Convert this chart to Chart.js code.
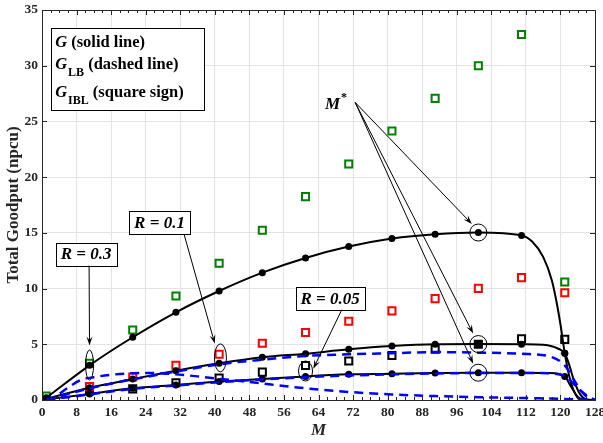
<!DOCTYPE html>
<html>
<head>
<meta charset="utf-8">
<script src="https://cdn.jsdelivr.net/npm/chart.js@4.4.1/dist/chart.umd.min.js"></script>
<style>
  html, body { margin: 0; padding: 0; background: #fff; }
  canvas { display: block; }
</style>
</head>
<body>
<canvas id="goodputChart" width="603" height="443"></canvas>
<script>
// ── Total goodput vs M ──

const M_PTS = [1, 11, 21, 31, 41, 51, 61, 71, 81, 91, 101, 111, 121];
const X_TICK_STEP = 8;
const Y_TICK_STEP = 5;

// G (solid, dots on M_PTS) – extra points trace the fall-off near M = 128
const G_R03_M = [1, 11, 21, 31, 41, 51, 61, 71, 81, 91, 101, 111, 113.5, 116, 118, 119, 120, 121, 122, 123, 124, 125, 128];
const G_R03   = [0.2, 3.11, 5.63, 7.87, 9.78, 11.43, 12.75, 13.77, 14.49, 14.88, 15.03, 14.76, 14.2, 12.85, 10.75, 9.0, 6.8, 4.2, 2.2, 0.9, 0.2, 0, 0];
const G_R01_M = [1, 11, 21, 31, 41, 51, 61, 71, 81, 91, 101, 111, 116, 118, 119.5, 121, 122, 123, 124.5, 126, 128];
const G_R01   = [0.1, 1.1, 1.88, 2.63, 3.29, 3.83, 4.16, 4.55, 4.84, 5.0, 5.02, 5.0, 4.95, 4.82, 4.6, 4.2, 3.2, 1.9, 0.55, 0.05, 0];
const G_R005_M = [1, 11, 21, 31, 41, 51, 61, 71, 81, 91, 101, 111, 117, 119.5, 121, 122.6, 124, 125.5, 128];
const G_R005   = [0.05, 0.54, 1.05, 1.35, 1.65, 1.88, 2.12, 2.3, 2.36, 2.42, 2.45, 2.45, 2.42, 2.35, 2.12, 1.1, 0.3, 0.03, 0];

// G_LB (dashed)
const LB_R03_M = [1, 3, 6, 9, 12, 17, 21, 26, 31, 36, 41, 46, 51, 56, 62, 71, 81, 91, 101, 108, 115, 121, 128];
const LB_R03   = [0, 0.3, 1.1, 1.8, 2.05, 2.3, 2.4, 2.42, 2.3, 2.12, 1.9, 1.7, 1.48, 1.25, 1.02, 0.72, 0.5, 0.35, 0.25, 0.2, 0.15, 0.1, 0];
const LB_R01_M = [1, 11, 21, 31, 41, 51, 61, 71, 81, 91, 101, 111, 118, 121, 123, 125, 127, 128];
const LB_R01   = [0, 1.05, 1.85, 2.55, 3.2, 3.62, 3.95, 4.1, 4.2, 4.3, 4.25, 4.15, 3.85, 3.1, 1.9, 0.7, 0.1, 0];
const LB_R005_M = [1, 11, 21, 31, 41, 51, 61, 71, 81, 91, 101, 111, 117, 119.5, 121.4, 123.8, 126.1, 128];
const LB_R005   = [0, 0.5, 1.0, 1.3, 1.6, 1.85, 2.05, 2.2, 2.3, 2.38, 2.42, 2.42, 2.4, 2.3, 2.06, 1.16, 0.41, 0];

// G_IBL (squares) on M_PTS
const IBL_R03  = [0.35, 3.29, 6.28, 9.33, 12.27, 15.23, 18.25, 21.18, 24.14, 27.07, 30.0, 32.8, 10.59];
const IBL_R01  = [0.12, 1.2, 2.07, 3.12, 4.1, 5.09, 6.05, 7.06, 8.0, 9.1, 10.02, 10.98, 9.63];
const IBL_R005 = [0.1, 0.8, 1.0, 1.55, 1.97, 2.5, 3.1, 3.5, 4.0, 4.55, 5.0, 5.5, 5.44];

const SERIF = "'Liberation Serif', 'DejaVu Serif', serif";
const AXIS_CLR = '#262626';

const pts = (xs, ys) => xs.map((x, i) => ({ x, y: ys[i] }));

const solid = (xs, ys) => ({
  data: pts(xs, ys), borderColor: '#000', borderWidth: 2, order: 2,
  cubicInterpolationMode: 'monotone',
  pointRadius: c => M_PTS.includes(c.raw.x) ? 3.5 : 0,
  pointBackgroundColor: '#000', pointBorderWidth: 0
});
const dashed = (xs, ys) => ({
  data: pts(xs, ys), borderColor: '#0000ff', borderWidth: 2.5, borderDash: [9, 6],
  cubicInterpolationMode: 'monotone', pointRadius: 0, order: 1
});
const squares = (ys, color) => ({
  data: pts(M_PTS, ys), showLine: false, order: 3,
  pointStyle: 'rect', pointRadius: 5, pointBorderWidth: 2,
  pointBorderColor: color, pointBackgroundColor: '#fff'
});

// annotations, kept in data units
const circles = [[101, G_R03[10]], [101, G_R01[10]], [101, G_R005[10]]];
const ellipses = [ { m: 11, v: 3.14, rx: 4, ry: 15 }, { m: 41.3, v: 3.78, rx: 6, ry: 14 }, { m: 61, v: 2.6, rx: 7, ry: 10 } ];
const rBoxes = [
  { text: 'R = 0.3', m: 10.2, v: 13.1, from: [10.9, 12.1], to: [11, 4.9] },
  { text: 'R = 0.1', m: 27.2, v: 15.96, from: [32.9, 14.85], to: [40.0, 5.06] },
  { text: 'R = 0.05', m: 66.7, v: 9.13, from: [69.7, 8.35], to: [62.8, 2.81] }
];
const mStar = { m: 65.5, v: 26.08, from: [72.5, 26.7], to: [[99.5, 15.8], [99.8, 5.96], [99.8, 3.26]] };

function arrow(ctx, x1, y1, x2, y2) {
  const a = Math.atan2(y2 - y1, x2 - x1), L = 9, W = 3;
  ctx.beginPath(); ctx.moveTo(x1, y1); ctx.lineTo(x2 - L * 0.6 * Math.cos(a), y2 - L * 0.6 * Math.sin(a)); ctx.stroke();
  ctx.beginPath();
  ctx.moveTo(x2, y2);
  ctx.lineTo(x2 - L * Math.cos(a) + W * Math.sin(a), y2 - L * Math.sin(a) - W * Math.cos(a));
  ctx.lineTo(x2 - L * 0.6 * Math.cos(a), y2 - L * 0.6 * Math.sin(a));
  ctx.lineTo(x2 - L * Math.cos(a) - W * Math.sin(a), y2 - L * Math.sin(a) + W * Math.cos(a));
  ctx.closePath(); ctx.fill();
}

function richText(ctx, x, y, parts) {
  for (const p of parts) {
    const size = p.sub ? 12 : 16.5;
    ctx.font = (p.italic ? 'italic ' : '') + 'bold ' + size + 'px ' + SERIF;
    ctx.fillText(p.t, x, y + (p.sub ? 7 : 0));
    x += ctx.measureText(p.t).width + (p.gap || 0);
  }
}

const frame = {
  id: 'frame',
  afterDatasetsDraw(chart) {
    const { ctx, scales: { x, y } } = chart;
    const px = m => x.getPixelForValue(m), py = v => y.getPixelForValue(v);
    ctx.save();
    ctx.strokeStyle = '#000'; ctx.fillStyle = '#000'; ctx.lineWidth = 1;

    circles.forEach(([m, v]) => { ctx.beginPath(); ctx.arc(px(m), py(v), 8.5, 0, Math.PI * 2); ctx.stroke(); });
    ellipses.forEach(e => { ctx.beginPath(); ctx.ellipse(px(e.m), py(e.v), e.rx, e.ry, 0, 0, Math.PI * 2); ctx.stroke(); });

    // R boxes with leaders
    ctx.textAlign = 'center'; ctx.textBaseline = 'middle';
    rBoxes.forEach(b => {
      arrow(ctx, px(b.from[0]), py(b.from[1]), px(b.to[0]), py(b.to[1]));
      ctx.font = 'italic bold 17px ' + SERIF;
      const w = ctx.measureText(b.text).width + 10, h = 23;
      const cx = px(b.m), cy = py(b.v);
      ctx.fillStyle = '#fff'; ctx.fillRect(cx - w / 2, cy - h / 2, w, h);
      ctx.strokeRect(Math.round(cx - w / 2) + 0.5, Math.round(cy - h / 2) + 0.5, Math.round(w), h);
      ctx.fillStyle = '#000'; ctx.fillText(b.text, cx, cy + 1);
    });

    // M* label and arrows
    mStar.to.forEach(t => arrow(ctx, px(mStar.from[0]), py(mStar.from[1]), px(t[0]), py(t[1])));
    ctx.textAlign = 'left'; ctx.textBaseline = 'alphabetic';
    ctx.font = 'italic bold 17px ' + SERIF;
    ctx.fillText('M', px(mStar.m), py(mStar.v));
    const mw = ctx.measureText('M').width;
    ctx.font = 'bold 12px ' + SERIF;
    ctx.fillText('*', px(mStar.m) + mw + 1, py(mStar.v) - 8);

    // legend box
    const lx = px(2.0), ly = py(33.4), lw = px(37.5) - lx, lh = py(26.0) - ly;
    ctx.fillStyle = '#fff'; ctx.fillRect(lx, ly, lw, lh);
    ctx.strokeRect(Math.round(lx) + 0.5, Math.round(ly) + 0.5, Math.round(lw), Math.round(lh));
    ctx.fillStyle = '#000';
    richText(ctx, lx + 4.5, ly + 19, [{ t: 'G', italic: true }, { t: ' (solid line)' }]);
    richText(ctx, lx + 4.5, ly + 40.8, [{ t: 'G', italic: true, gap: 1 }, { t: 'LB', sub: true }, { t: ' (dashed line)' }]);
    richText(ctx, lx + 4.5, ly + 69, [{ t: 'G', italic: true, gap: 1 }, { t: 'IBL', sub: true }, { t: ' (square sign)' }]);
    ctx.restore();
  },
  afterDraw(chart) {
    const { ctx, chartArea: a, scales: { x, y } } = chart;
    ctx.save();
    ctx.strokeStyle = AXIS_CLR; ctx.lineWidth = 1;
    ctx.beginPath();
    for (let m = x.min; m <= x.max; m += X_TICK_STEP / 4) {
      const xp = Math.round(x.getPixelForValue(m)) + 0.5;
      const len = m % X_TICK_STEP === 0 ? 5 : 3;
      ctx.moveTo(xp, a.bottom); ctx.lineTo(xp, a.bottom - len);
      ctx.moveTo(xp, a.top); ctx.lineTo(xp, a.top + len);
    }
    for (let v = y.min; v <= y.max; v += Y_TICK_STEP) {
      const yp = Math.round(y.getPixelForValue(v)) + 0.5;
      ctx.moveTo(a.left, yp); ctx.lineTo(a.left + 5, yp);
      ctx.moveTo(a.right, yp); ctx.lineTo(a.right - 5, yp);
    }
    ctx.stroke();
    ctx.strokeRect(Math.round(a.left) + 0.5, Math.round(a.top) + 0.5, Math.round(a.right - a.left), Math.round(a.bottom - a.top));
    ctx.restore();
  }
};

new Chart(document.getElementById('goodputChart').getContext('2d'), {
  type: 'line',
  data: {
    datasets: [
      dashed(LB_R03_M, LB_R03), dashed(LB_R01_M, LB_R01), dashed(LB_R005_M, LB_R005),
      solid(G_R03_M, G_R03), solid(G_R01_M, G_R01), solid(G_R005_M, G_R005),
      squares(IBL_R03, '#008000'), squares(IBL_R01, '#ff0000'), squares(IBL_R005, '#000')
    ]
  },
  options: {
    responsive: false, animation: false,
    layout: { padding: { top: 10, right: 8, left: 0, bottom: 0 } },
    plugins: { legend: { display: false }, tooltip: { enabled: false } },
    scales: {
      x: {
        type: 'linear', min: 0, max: 128,
        afterFit: s => { s.height = 43; s.paddingLeft = 0; s.paddingRight = 0; },
        ticks: { stepSize: X_TICK_STEP, padding: 4, color: AXIS_CLR, font: { family: SERIF, size: 13.5, weight: 'bold' } },
        grid: { color: '#e3e3e3', drawTicks: false },
        border: { display: false },
        title: { display: true, text: 'M', color: AXIS_CLR, padding: { top: 0, bottom: 2 }, font: { family: SERIF, size: 17, weight: 'bold', style: 'italic' } }
      },
      y: {
        min: 0, max: 35,
        afterFit: s => { s.width = 42; s.paddingTop = 0; s.paddingBottom = 0; },
        ticks: { stepSize: Y_TICK_STEP, padding: 4, color: AXIS_CLR, font: { family: SERIF, size: 13.5, weight: 'bold' } },
        grid: { color: '#e3e3e3', drawTicks: false },
        border: { display: false },
        title: { display: true, text: 'Total Goodput (npcu)', color: AXIS_CLR, padding: { top: 3, bottom: 0 }, font: { family: SERIF, size: 17, weight: 'bold' } }
      }
    }
  },
  plugins: [frame]
});
</script>
</body>
</html>
